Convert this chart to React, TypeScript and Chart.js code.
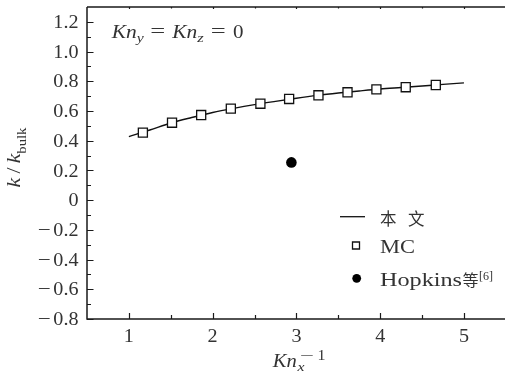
import React, { useEffect, useRef } from "react";
import { Chart, registerables } from "chart.js";
Chart.register(...registerables);

// ---- data ----
const curveX = [1, 1.25, 1.5, 1.75, 2, 2.25, 2.5, 2.75, 3, 3.25, 3.5, 3.75, 4, 4.25, 4.5, 4.75, 5];
const curveY = [0.428, 0.472, 0.519, 0.556, 0.59, 0.618, 0.643, 0.665, 0.686, 0.705, 0.721, 0.735, 0.748, 0.758, 0.768, 0.779, 0.789];
const mcX = [1.167, 1.515, 1.863, 2.217, 2.57, 2.913, 3.263, 3.61, 3.955, 4.305, 4.664];
const mcY = [0.454, 0.521, 0.573, 0.616, 0.649, 0.681, 0.706, 0.726, 0.746, 0.76, 0.775];
const hopkinsX = [2.94];
const hopkinsY = [0.254];
const xTicks = [1, 2, 3, 4, 5];
const xMinor = [1.5, 2.5, 3.5, 4.5];
const yTicks = [-0.8, -0.6, -0.4, -0.2, 0, 0.2, 0.4, 0.6, 0.8, 1.0, 1.2];
const yMinor = [-0.7, -0.5, -0.3, -0.1, 0.1, 0.3, 0.5, 0.7, 0.9, 1.1];
const legendNames = ["本", "文", "MC", "Hopkins", "等", "[6]"];

const SERIF = '"Liberation Serif", serif';
const CJK = '"Noto Sans CJK SC", sans-serif';
const INK = "#333";

type Run = { t: string; f: string; dy?: number };

function runsWidth(ctx: CanvasRenderingContext2D, runs: Run[]) {
  let w = 0;
  for (const r of runs) {
    ctx.font = r.f;
    w += ctx.measureText(r.t).width;
  }
  return w;
}

function drawRuns(
  ctx: CanvasRenderingContext2D,
  runs: Run[],
  x: number,
  y: number,
  opts: { align?: "left" | "right" | "center"; fit?: number; sx?: number } = {}
) {
  const nat = runsWidth(ctx, runs);
  const sx = opts.fit ? opts.fit / nat : opts.sx || 1;
  const total = nat * sx;
  let start = x;
  if (opts.align === "right") start = x - total;
  else if (opts.align === "center") start = x - total / 2;
  ctx.save();
  ctx.translate(start, y);
  ctx.scale(sx, 1);
  ctx.textAlign = "left";
  ctx.textBaseline = "alphabetic";
  let cx = 0;
  for (const r of runs) {
    ctx.font = r.f;
    ctx.fillText(r.t, cx, r.dy || 0);
    cx += ctx.measureText(r.t).width;
  }
  ctx.restore();
  return total;
}

const decorPlugin = {
  id: "decor",
  afterDraw(chart: any) {
    const ctx: CanvasRenderingContext2D = chart.ctx;
    const ca = chart.chartArea;
    const xs = chart.scales.x;
    const ys = chart.scales.y;
    ctx.save();
    ctx.strokeStyle = "#1a1a1a";

    // frame
    ctx.lineWidth = 1.5;
    ctx.beginPath();
    ctx.moveTo(ca.left, ca.top);
    ctx.lineTo(ca.left, ca.bottom);
    ctx.lineTo(ca.right, ca.bottom);
    ctx.moveTo(ca.left, ca.top);
    ctx.lineTo(ca.right, ca.top);
    ctx.stroke();

    // ticks
    ctx.lineWidth = 1.2;
    ctx.beginPath();
    for (const v of yTicks) {
      const p = Math.round(ys.getPixelForValue(v)) + 0.5;
      ctx.moveTo(ca.left, p);
      ctx.lineTo(ca.left + 6.5, p);
    }
    for (const v of yMinor) {
      const p = Math.round(ys.getPixelForValue(v)) + 0.5;
      ctx.moveTo(ca.left, p);
      ctx.lineTo(ca.left + 4, p);
    }
    for (const v of xTicks) {
      const p = Math.round(xs.getPixelForValue(v)) + 0.5;
      ctx.moveTo(p, ca.bottom);
      ctx.lineTo(p, ca.bottom - 6);
      ctx.moveTo(p, ca.top);
      ctx.lineTo(p, ca.top + 2);
    }
    for (const v of xMinor) {
      const p = Math.round(xs.getPixelForValue(v)) + 0.5;
      ctx.moveTo(p, ca.bottom);
      ctx.lineTo(p, ca.bottom - 4);
      ctx.moveTo(p, ca.top);
      ctx.lineTo(p, ca.top + 1.5);
    }
    ctx.stroke();

    // tick labels
    const tf = `19px ${SERIF}`;
    ctx.fillStyle = INK;
    for (const v of yTicks) {
      const p = ys.getPixelForValue(v);
      const txt = v === 0 ? "0" : Math.abs(v).toFixed(1);
      const w = drawRuns(ctx, [{ t: txt, f: tf }], ca.left - 8.5, p + 6.2, { align: "right", sx: 1.06 });
      if (v < 0) {
        drawRuns(ctx, [{ t: "\u2212", f: tf }], ca.left - 8.5 - w - 2.5, p + 6.2, { align: "right", fit: 13 });
      }
    }
    for (const v of xTicks) {
      const p = xs.getPixelForValue(v);
      drawRuns(ctx, [{ t: String(v), f: tf }], p, ca.bottom + 22.7, { align: "center", sx: 1.06 });
    }

    // axis titles
    const it = `italic 19px ${SERIF}`;
    const itS = `italic 13px ${SERIF}`;
    const rmS = `13px ${SERIF}`;
    // x title: Kn_x^{-1}
    drawRuns(ctx, [{ t: "Kn", f: it }], 272.7, 366.5, { fit: 24 });
    drawRuns(ctx, [{ t: "x", f: itS }], 297.5, 370.5, { fit: 7 });
    drawRuns(ctx, [{ t: "\u2212", f: rmS }], 299.5, 360, { fit: 14 });
    drawRuns(ctx, [{ t: "1", f: `14px ${SERIF}` }], 317.5, 360, { fit: 8 });

    // y title: k / k_bulk (rotated)
    ctx.save();
    ctx.translate(20, 157.5);
    ctx.rotate(-Math.PI / 2);
    drawRuns(
      ctx,
      [
        { t: "k", f: it },
        { t: "\u2009/\u2009", f: `19px ${SERIF}` },
        { t: "k", f: it },
        { t: "bulk", f: rmS, dy: 6 },
      ],
      0,
      0,
      { align: "center", fit: 60 }
    );
    ctx.restore();

    // annotation: Kn_y = Kn_z = 0
    const big = `19px ${SERIF}`;
    drawRuns(ctx, [{ t: "Kn", f: it }], 111.7, 37.7, { fit: 25 });
    drawRuns(ctx, [{ t: "y", f: itS }], 136.7, 41.5, { fit: 7 });
    drawRuns(ctx, [{ t: "=", f: big }], 150.2, 37, { fit: 15 });
    drawRuns(ctx, [{ t: "Kn", f: it }], 172.2, 37.7, { fit: 25 });
    drawRuns(ctx, [{ t: "z", f: itS }], 197.2, 41.5, { fit: 6.5 });
    drawRuns(ctx, [{ t: "=", f: big }], 210.7, 37, { fit: 15 });
    drawRuns(ctx, [{ t: "0", f: big }], 233, 37.7, { fit: 10.5 });

    // legend
    ctx.strokeStyle = "#111";
    ctx.lineWidth = 1.3;
    ctx.beginPath();
    ctx.moveTo(340, 216.7);
    ctx.lineTo(365, 216.7);
    ctx.stroke();
    ctx.fillStyle = INK;
    ctx.font = `16.5px ${CJK}`;
    ctx.textAlign = "left";
    ctx.textBaseline = "alphabetic";
    ctx.fillText(legendNames[0], 380, 224.5);
    ctx.fillText(legendNames[1], 408, 224.5);

    ctx.fillStyle = "#fff";
    ctx.lineWidth = 1.3;
    ctx.beginPath();
    ctx.rect(352.5, 242, 7, 7);
    ctx.fill();
    ctx.stroke();
    ctx.fillStyle = INK;
    drawRuns(ctx, [{ t: legendNames[2], f: `19px ${SERIF}` }], 380, 253, { fit: 35 });

    ctx.fillStyle = "#000";
    ctx.beginPath();
    ctx.arc(356.7, 278.3, 4.4, 0, Math.PI * 2);
    ctx.fill();
    ctx.fillStyle = INK;
    const hw = drawRuns(ctx, [{ t: legendNames[3], f: `19px ${SERIF}` }], 380, 286, { fit: 82 });
    ctx.font = `16px ${CJK}`;
    ctx.fillText(legendNames[4], 380 + hw + 0.5, 286);
    drawRuns(ctx, [{ t: legendNames[5], f: `12px ${SERIF}` }], 380 + hw + 17, 280, { fit: 14 });

    ctx.restore();
  },
};

export default function App() {
  const ref = useRef<HTMLCanvasElement | null>(null);
  useEffect(() => {
    if (!ref.current) return;
    const chart = new Chart(ref.current, {
      type: "scatter",
      data: {
        datasets: [
          {
            label: "MC",
            data: mcX.map((x, i) => ({ x, y: mcY[i] })),
            pointStyle: "rect",
            pointRadius: 6.4,
            pointBackgroundColor: "#fff",
            pointBorderColor: "#111",
            pointBorderWidth: 1.3,
            showLine: false,
          },
          {
            label: "Hopkins",
            data: hopkinsX.map((x, i) => ({ x, y: hopkinsY[i] })),
            pointStyle: "circle",
            pointRadius: 5.3,
            pointBackgroundColor: "#000",
            pointBorderColor: "#000",
            pointBorderWidth: 0,
            showLine: false,
          },
          {
            label: "本文",
            data: curveX.map((x, i) => ({ x, y: curveY[i] })),
            showLine: true,
            borderColor: "#111",
            borderWidth: 1.4,
            pointRadius: 0,
            cubicInterpolationMode: "monotone",
            fill: false,
          },
        ],
      },
      options: {
        animation: false,
        responsive: false,
        events: [],
        layout: { autoPadding: false, padding: { top: 7, right: 0, left: 0, bottom: 0 } },
        plugins: { legend: { display: false }, tooltip: { enabled: false } },
        scales: {
          x: {
            type: "linear",
            min: 0.5,
            max: 5.49,
            ticks: { display: false },
            grid: { display: false },
            border: { display: false },
            afterFit: (s: any) => {
              s.height = 55;
            },
          },
          y: {
            type: "linear",
            min: -0.8,
            max: 1.3,
            ticks: { display: false },
            grid: { display: false },
            border: { display: false },
            afterFit: (s: any) => {
              s.width = 87;
            },
          },
        },
      },
      plugins: [decorPlugin],
    } as any);
    return () => chart.destroy();
  }, []);
  return (
    <div style={{ position: "fixed", left: 0, top: 0, width: 505, height: 374, background: "#fff" }}>
      <canvas ref={ref} width={505} height={374} style={{ display: "block" }} />
    </div>
  );
}
